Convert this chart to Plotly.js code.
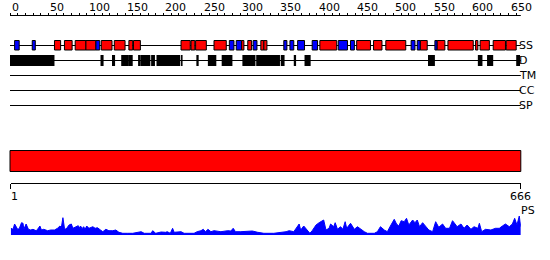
<!DOCTYPE html>
<html><head><meta charset="utf-8">
<script src="https://cdn.plot.ly/plotly-3.0.1.min.js"></script>
<style>html,body{margin:0;padding:0;background:#fff}</style>
</head><body><div id="chart" style="width:550px;height:260px"></div>
<script>
// ---------------- data ----------------
const seqLength = 666;
const topTickLabels = [0,50,100,150,200,250,300,350,400,450,500,550,600,650];
const bottomTickVals = [1, 666];
const bottomTickText = ['1', '666'];

// secondary structure: H = helix (red), E = strand (blue)
const ssStart = [7,30,59,72,86,100,113,120,137,156,162,224,237,243,267,287,296,303,311,318,328,332,358,366,376,395,405,429,445,453,475,491,524,532,536,555,558,572,608,614,631,648];
const ssEnd   = [12,33,66,81,99,112,117,133,150,160,170,235,241,256,282,292,302,305,315,322,331,335,361,370,384,401,426,440,449,470,485,516,528,535,544,557,567,604,610,625,646,660];
const ssType  = ['E','E','H','H','H','H','E','H','H','H','H','H','H','H','H','E','E','H','H','E','H','H','E','E','E','E','H','E','E','H','H','H','E','E','H','E','H','H','H','H','H','H'];

// disorder segments
const disStart = [1,119,134,146,155,168,171,185,192,224,244,259,277,304,322,354,371,385,546,611,623,661];
const disEnd   = [58,122,137,154,160,170,183,189,222,225,246,269,290,320,352,358,373,392,554,616,630,665];

const trackNames = ['SS','D','TM','CC','SP'];

// domain bar
const domainStart = [1];
const domainEnd = [666];

// PS profile
const psPos = [1,4,6,10,12,15,17,18,21,24,27,30,34,36,39,41,44,49,53,58,62,65,67,69,71,73,77,80,82,86,89,91,92,94,96,98,100,103,108,111,114,118,121,125,129,134,138,142,147,153,160,171,175,184,186,190,197,203,205,209,212,214,223,227,240,244,249,252,255,258,262,266,275,284,288,291,294,301,310,316,323,331,344,353,360,364,370,377,379,383,388,391,394,399,403,406,409,412,416,418,422,424,427,431,434,437,439,444,449,453,457,462,466,475,479,483,488,492,496,501,504,507,510,514,517,520,525,528,531,534,538,542,546,551,555,559,564,568,573,577,580,583,588,592,596,601,605,610,612,615,620,627,633,638,642,646,651,655,658,661,664,666];
const psVal = [6.7,5.7,11,5.7,6.3,12.3,11.7,5.7,11,5.7,5,5.7,4.3,5.7,9,5,5.7,4.3,5,5,6.7,9,7.7,17.3,6.7,5.7,10,11,6.7,8.3,9.3,6.7,9,6.3,8.3,5.7,9,6.7,8.3,6.7,7.3,5,3.3,5.7,4.3,4.3,5,2.7,1.7,1.7,1.7,3.3,1.7,1.7,4.3,1.7,3,2.7,3.3,1.7,6.7,2.7,3.3,1.7,1.7,3.3,4.3,5.7,3.3,5.7,3.3,4.3,3.3,4.3,4,6.7,3.3,3.3,3.3,4,2.7,1.7,1.7,2.5,3.3,4.3,3.3,11,5,9,5,1.7,4.3,10,12.3,13.3,15,5,6.7,11,8.3,12.3,5.7,8.3,5.7,13.3,6.7,11.7,5.7,8.3,5.7,3.3,1.7,1.7,3.3,8.3,5,3.3,9,15.7,11,9,14.3,13.3,16.7,10,15,12.3,15,8.3,12.3,9,5,3.3,13.3,7.7,11,6.7,6.7,14.3,11.7,8.3,11,6.7,10,5.7,8.3,6.7,11.7,3.3,5.7,5,6.7,6.7,9,11,8.3,11,16.7,10,19,8.3];

// ---------------- layout helpers ----------------
const W = 550, H = 260;
const left = 10, right = 520.8;
const k = (right - left) / seqLength;
const pad = 3;
const py = p => 1 - p / H;
const font = {family: 'DejaVu Sans, sans-serif', size: 11, color: '#000'};

const axisY = 15.5;
const trackY = [45.5, 60.5, 75.5, 90.5, 105.5];
const ssHalf = 4.5, disTop = 55, disBot = 66;
const barTop = 150.5, barBot = 171.5;

const traces = [];
// top axis line
traces.push({x:[0, seqLength], y:[axisY, axisY], xaxis:'x2', yaxis:'y', mode:'lines',
  line:{color:'#000', width:1}, hoverinfo:'skip', showlegend:false});
// track lines
trackNames.forEach((n, i) => {
  traces.push({x:[0, seqLength], y:[trackY[i], trackY[i]], xaxis:'x2', yaxis:'y', mode:'lines',
    line:{color:'#000', width:1}, hoverinfo:'skip', showlegend:false});
});
// PS profile
traces.push({x: psPos, y: psVal, xaxis:'x3', yaxis:'y2', mode:'lines', fill:'tozeroy',
  line:{color:'#0000ff', width:1}, fillcolor:'#0000ff', hoverinfo:'skip', showlegend:false});

const shapes = [];
ssStart.forEach((s, i) => {
  shapes.push({type:'rect', xref:'x2', yref:'y', x0: s - 1, x1: ssEnd[i],
    y0: trackY[0] - ssHalf - 0.5, y1: trackY[0] + ssHalf,
    fillcolor: ssType[i] === 'H' ? '#ff0000' : '#0000ff', line:{color:'#000', width:1}});
});
disStart.forEach((s, i) => {
  shapes.push({type:'rect', xref:'x2', yref:'y', x0: s - 1, x1: disEnd[i],
    y0: disTop, y1: disBot, fillcolor:'#000', line:{width:0}});
});
domainStart.forEach((s, i) => {
  shapes.push({type:'rect', xref:'x2', yref:'y', x0: s - 1, x1: domainEnd[i],
    y0: barTop, y1: barBot, fillcolor:'#ff0000', line:{color:'#000', width:1}});
});

const annotations = [];
topTickLabels.forEach(t => {
  annotations.push({x: t, y: 7.5, xref:'x2', yref:'y', text: String(t), showarrow:false,
    xanchor:'left', yanchor:'middle', font: font});
});
trackNames.forEach((n, i) => {
  annotations.push({x: 517 / W, y: trackY[i], xref:'paper', yref:'y', text: n, showarrow:false,
    xanchor:'left', yanchor:'middle', font: font});
});
annotations.push({x: 519 / W, y: 210, xref:'paper', yref:'y', text: 'PS', showarrow:false,
  xanchor:'left', yanchor:'middle', font: font});
bottomTickVals.forEach((v, i) => {
  annotations.push({x: v, y: 196, xref:'x3', yref:'y', text: bottomTickText[i], showarrow:false,
    xanchor: i === 0 ? 'left' : 'center', xshift: i === 0 ? -2 : 0, yanchor:'middle', font: font});
});

const layout = {
  width: W, height: H, margin:{l:0, r:0, t:0, b:0},
  paper_bgcolor:'#fff', plot_bgcolor:'rgba(0,0,0,0)', showlegend:false,
  font: font,
  xaxis: {visible:false, range:[0,1], domain:[0,1]},
  xaxis2: {domain:[(left - pad) / W, (right + pad) / W], range:[-pad / k, seqLength + pad / k],
    anchor:'free', position: py(axisY), side:'top', showline:false, showgrid:false, zeroline:false,
    ticks:'outside', ticklen:3, tickwidth:1, tickcolor:'#000', tick0:0, dtick:10, showticklabels:false},
  xaxis3: {domain:[(left + k) / W, right / W], range:[1, seqLength], anchor:'free', position: py(182.5),
    side:'bottom', showline:true, linecolor:'#000', linewidth:1, showgrid:false, zeroline:false,
    ticks:'outside', ticklen:5, tickwidth:1, tickcolor:'#000', tickvals: bottomTickVals,
    showticklabels:false},
  yaxis: {visible:false, range:[H, 0], domain:[0,1], fixedrange:true},
  yaxis2: {visible:false, range:[0, 20], domain:[py(235), py(215)], anchor:'x3'},
  shapes: shapes,
  annotations: annotations
};

Plotly.newPlot('chart', traces, layout, {staticPlot:true, displayModeBar:false});
</script>
</body></html>
